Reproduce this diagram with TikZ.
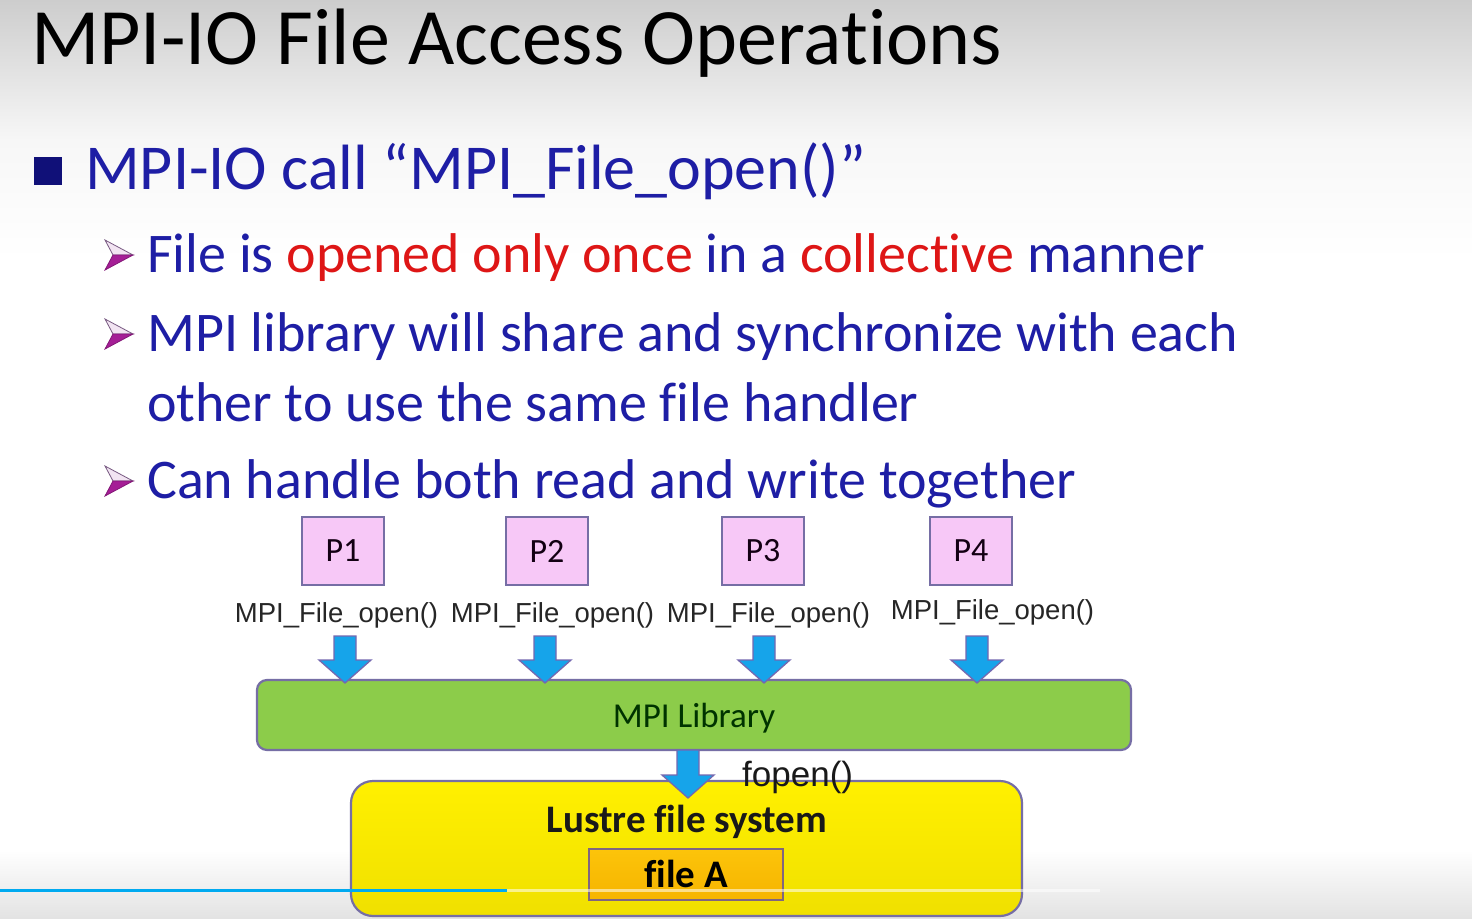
\documentclass[tikz,border=0pt]{standalone}
\usepackage{fontspec}
\setmainfont[Ligatures={NoCommon,NoContextual,NoRequired}]{Carlito}
\newfontfamily\arialfont{Liberation Sans}

\definecolor{slideblue}{RGB}{30,30,165}
\definecolor{slidered}{RGB}{222,22,22}
\definecolor{navy}{RGB}{16,16,120}
\definecolor{bulletlight}{RGB}{242,228,242}
\definecolor{bulletedge}{RGB}{120,90,130}
\definecolor{bulletdark}{RGB}{165,30,150}
\definecolor{pinkfill}{RGB}{247,200,247}
\definecolor{boxedge}{RGB}{118,110,165}
\definecolor{libgreen}{RGB}{140,204,74}
\definecolor{arrowblue}{RGB}{22,164,234}
\definecolor{arrowedge}{RGB}{116,104,176}
\definecolor{fsyellow}{RGB}{255,240,0}
\definecolor{fsyellowdark}{RGB}{240,224,0}
\definecolor{progressblue}{RGB}{0,170,240}

\tikzset{
  pbox/.style={draw=boxedge, line width=2.2pt, fill=pinkfill, minimum width=82pt,
    minimum height=68pt, inner sep=0pt, font=\fontsize{34}{40}\selectfont, text=black!85!violet},
  calllabel/.style={inner sep=0pt, anchor=base, font=\arialfont\fontsize{27.5}{32}\selectfont, text=black!85},
  blockarrow/.style={fill=arrowblue, draw=arrowedge, line width=1.3pt, line join=miter},
  slidetext/.style={inner sep=0pt, anchor=base west},
}

% downward block arrow: centre x, top y, tip y
\newcommand{\blockdown}[3]{%
  \filldraw[blockarrow] ({#1-11},{#2}) -- ({#1+11},{#2}) -- ({#1+11},{#3-23}) --
    ({#1+26},{#3-23}) -- ({#1},{#3}) -- ({#1-26},{#3-23}) -- ({#1-11},{#3-23}) -- cycle;}

% two-tone arrowhead bullet: left x, centre y
\newcommand{\subbullet}[2]{%
  \filldraw[fill=bulletlight, draw=bulletedge, line width=0.8pt]
    ({#1},{#2-15}) -- ({#1+28},{#2}) -- ({#1+8},{#2}) -- cycle;
  \filldraw[fill=bulletdark, draw=bulletdark!80!black, line width=0.8pt]
    ({#1+8},{#2}) -- ({#1+28},{#2}) -- ({#1},{#2+15}) -- cycle;}

\begin{document}
\begin{tikzpicture}[x=1pt,y=-1pt]
\useasboundingbox (0,0) rectangle (1472,918);

% slide background
\fill[white] (0,0) rectangle (1472,918);
\shade[top color={rgb,255:red,205;green,205;blue,205}, bottom color={rgb,255:red,247;green,247;blue,247}]
  (0,0) rectangle (1472,140);
\shade[top color={rgb,255:red,247;green,247;blue,247}, bottom color=white] (0,140) rectangle (1472,260);
\shade[top color=white, bottom color=gray!22] (0,850) rectangle (1472,918);

% title
\node[slidetext, font=\fontsize{80}{96}\selectfont, text=black] (title) at (31,64)
  {MPI-IO File Access Operations};

% first-level bullet
\fill[navy] (34,157) rectangle (62,185);
\node[slidetext, font=\fontsize{64}{76}\selectfont, text=slideblue] (b0) at (85,189)
  {MPI-IO call “MPI\_File\_open()”};

% second-level bullets
\subbullet{105}{255}
\node[slidetext, font=\fontsize{56}{66}\selectfont, text=slideblue] (b1) at (147,272)
  {File is \textcolor{slidered}{opened only once} in a \textcolor{slidered}{collective} manner};
\subbullet{105}{334}
\node[slidetext, font=\fontsize{56}{66}\selectfont, text=slideblue] (b2) at (147,351)
  {MPI library will share and synchronize with each};
\node[slidetext, font=\fontsize{56}{66}\selectfont, text=slideblue] (b3) at (147,421)
  {other to use the same file handler};
\subbullet{105}{481}
\node[slidetext, font=\fontsize{56}{66}\selectfont, text=slideblue] (b4) at (147,498)
  {Can handle both read and write together};

% processes
\node[pbox] (p1) at (343,551) {P1};
\node[pbox] (p2) at (547,551) {P2};
\node[pbox] (p3) at (763,551) {P3};
\node[pbox] (p4) at (971,551) {P4};

\node[calllabel] (l1) at (336.5,622) {MPI\_File\_open()};
\node[calllabel] (l2) at (552.5,622) {MPI\_File\_open()};
\node[calllabel] (l3) at (768.5,622) {MPI\_File\_open()};
\node[calllabel] (l4) at (992.5,619) {MPI\_File\_open()};

% MPI library layer
\node[draw=boxedge, line width=2.2pt, fill=libgreen, rounded corners=10pt,
  minimum width=874pt, minimum height=70pt, inner sep=0pt, text depth=0pt,
  font=\fontsize{35}{42}\selectfont, text=black!80!green] (lib) at (694,715) {MPI Library};

% calls into the library
\blockdown{345}{636}{683}
\blockdown{545}{636}{683}
\blockdown{764}{636}{683}
\blockdown{977}{636}{683}

% file system
\shade[top color=fsyellow, bottom color=fsyellowdark, rounded corners=22pt]
  (351,781) rectangle (1022,916);
\draw[boxedge, line width=2.2pt, rounded corners=22pt] (351,781) rectangle (1022,916);
\node (fs) at (686.5,848.5) [minimum width=671pt, minimum height=135pt, inner sep=0pt] {};
\node[font=\bfseries\fontsize{39}{46}\selectfont, text=black!90, inner sep=0pt, anchor=base]
  (fslabel) at (687,832) {Lustre file system};

\node[top color={rgb,255:red,252;green,196;blue,10}, bottom color={rgb,255:red,246;green,180;blue,0},
  draw=gray!80!violet, line width=1.8pt, minimum width=194pt, minimum height=51pt, inner sep=0pt,
  font=\bfseries\fontsize{39}{46}\selectfont, text=black] (fileA) at (686,874.5) {\raisebox{2pt}{file A}};

% library call down to the file system
\blockdown{688}{750}{798}
\node[inner sep=0pt, anchor=base west, font=\arialfont\fontsize{35}{40}\selectfont, text=black!90]
  (fopen) at (742,786) {fopen()};

% player progress bar
\draw[white, opacity=0.55, line width=3pt] (507,890.5) -- (1100,890.5);
\draw[progressblue, line width=3.5pt] (0,890.5) -- (507,890.5);
\end{tikzpicture}
\end{document}
